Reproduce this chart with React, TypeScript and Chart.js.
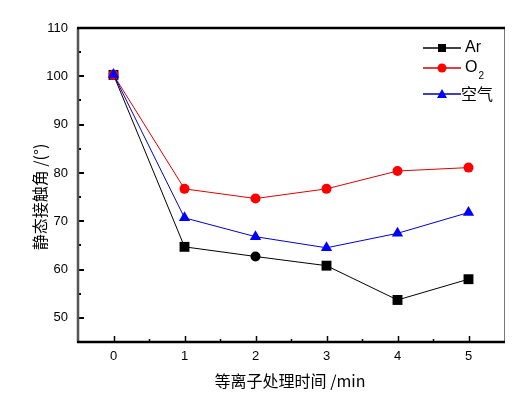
import React, { useEffect, useRef } from "react";
import { Chart, registerables } from "chart.js";

Chart.register(...registerables);

const times = [0, 1, 2, 3, 4, 5];
const arValues = [100.3, 64.7, 62.7, 60.8, 53.7, 58.0];
const o2Values = [100.3, 76.7, 74.7, 76.7, 80.4, 81.1];
const airValues = [100.4, 70.7, 66.8, 64.5, 67.5, 71.8];
const arPointStyles = ["rect", "rect", "circle", "rect", "rect", "rect"];
const yTicks = [50, 60, 70, 80, 90, 100, 110];
const xTicks = [0, 1, 2, 3, 4, 5];
const legendLabels = ["Ar", "O", "空气"];
const xTitle = "等离子处理时间 /min";
const yTitle = "静态接触角 /(°)";

const LATIN = "'Liberation Sans', Arial, sans-serif";
const CJK = "'Noto Sans CJK SC', 'Liberation Sans', sans-serif";

const framePlugin = {
  id: "frame",
  afterDraw(chart: any) {
    const { ctx, chartArea } = chart;
    const { left, right, top, bottom } = chartArea;
    const xs = chart.scales.x;
    const ys = chart.scales.y;
    ctx.save();
    ctx.strokeStyle = "#000";
    ctx.lineWidth = 2;
    for (let v = 45; v <= 110; v += 5) {
      if (v === 45 || v === 110) continue;
      const y = Math.round(ys.getPixelForValue(v));
      const len = v % 10 === 0 ? 6 : 3;
      ctx.beginPath();
      ctx.moveTo(left, y);
      ctx.lineTo(left + len, y);
      ctx.stroke();
    }
    ctx.lineWidth = 1.5;
    for (let v = 0; v <= 5; v += 0.5) {
      const x = Math.round(xs.getPixelForValue(v)) + 0.5;
      const len = Number.isInteger(v) ? 6 : 3;
      ctx.beginPath();
      ctx.moveTo(x, bottom);
      ctx.lineTo(x, bottom - len);
      ctx.stroke();
    }
    ctx.lineWidth = 1;
    ctx.strokeStyle = "#777";
    ctx.beginPath();
    ctx.moveTo(right + 0.5, top);
    ctx.lineTo(right + 0.5, bottom);
    ctx.stroke();
    ctx.lineWidth = 2.5;
    ctx.strokeStyle = "#555";
    ctx.beginPath();
    ctx.moveTo(left, top);
    ctx.lineTo(left, bottom + 1);
    ctx.stroke();
    ctx.strokeStyle = "#000";
    ctx.beginPath();
    ctx.moveTo(left - 1, top);
    ctx.lineTo(right + 1, top);
    ctx.stroke();
    ctx.beginPath();
    ctx.moveTo(left - 1, bottom);
    ctx.lineTo(right + 1, bottom);
    ctx.stroke();

    // axis titles
    ctx.fillStyle = "#000";
    ctx.textAlign = "center";
    ctx.textBaseline = "middle";
    ctx.font = `16px ${CJK}`;
    ctx.fillText(xTitle, 290, 381);
    ctx.save();
    ctx.translate(40, 197);
    ctx.rotate(-Math.PI / 2);
    ctx.font = `16px ${CJK}`;
    ctx.fillText(yTitle, 0, 0);
    ctx.restore();

    const rows = [
      { y: 48, color: "#000", line: "#000", style: "rect", label: legendLabels[0] },
      { y: 68, color: "#ff0000", line: "#cc0000", style: "circle", label: legendLabels[1] },
      { y: 94, color: "#0000ff", line: "#0000aa", style: "triangle", label: legendLabels[2] },
    ];
    rows.forEach((r) => {
      ctx.strokeStyle = r.line;
      ctx.lineWidth = 1.5;
      ctx.beginPath();
      ctx.moveTo(423, r.y);
      ctx.lineTo(461, r.y);
      ctx.stroke();
      ctx.fillStyle = r.color;
      const cx = 442;
      if (r.style === "rect") {
        ctx.fillRect(cx - 4, r.y - 4, 8, 8);
      } else if (r.style === "circle") {
        ctx.beginPath();
        ctx.arc(cx, r.y, 4.5, 0, Math.PI * 2);
        ctx.fill();
      } else {
        ctx.beginPath();
        ctx.moveTo(cx, r.y - 5);
        ctx.lineTo(cx + 5, r.y + 4);
        ctx.lineTo(cx - 5, r.y + 4);
        ctx.closePath();
        ctx.fill();
      }
      ctx.fillStyle = "#000";
      ctx.textBaseline = "middle";
      ctx.textAlign = "left";
      if (r.style === "triangle") {
        ctx.font = `16px ${CJK}`;
        ctx.fillText(r.label, 461, r.y);
      } else {
        ctx.font = `16px ${LATIN}`;
        ctx.fillText(r.label, 465, r.y);
        if (r.style === "circle") {
          const w = ctx.measureText(r.label).width;
          ctx.font = `10px ${LATIN}`;
          ctx.fillText("2", 465 + w + 1, r.y + 8);
        }
      }
    });
    ctx.restore();
  },
};

export default function App() {
  const ref = useRef<HTMLCanvasElement>(null);
  useEffect(() => {
    if (!ref.current) return;
    const chart = new Chart(ref.current, {
      type: "line",
      data: {
        labels: times,
        datasets: [
          {
            label: "空气",
            data: times.map((t, i) => ({ x: t, y: airValues[i] })),
            borderColor: "#0000cc",
            backgroundColor: "#0000ff",
            borderWidth: 1,
            pointStyle: "triangle",
            pointRadius: 6.5,
            pointBorderWidth: 0,
            order: 0,
          },
          {
            label: "O2",
            data: times.map((t, i) => ({ x: t, y: o2Values[i] })),
            borderColor: "#dd0000",
            backgroundColor: "#ff0000",
            borderWidth: 1,
            pointStyle: "circle",
            pointRadius: 5,
            pointBorderWidth: 0,
            order: 1,
          },
          {
            label: "Ar",
            data: times.map((t, i) => ({ x: t, y: arValues[i] })),
            borderColor: "#000",
            backgroundColor: "#000",
            borderWidth: 1,
            pointStyle: arPointStyles as any,
            pointRadius: arPointStyles.map((s) => (s === "rect" ? 7 : 5)),
            pointBorderWidth: 0,
            order: 2,
          },
        ],
      },
      options: {
        responsive: false,
        animation: false,
        layout: { padding: { top: 28, right: 16, left: 0, bottom: 0 } },
        plugins: { legend: { display: false }, tooltip: { enabled: false } },
        scales: {
          x: {
            type: "linear",
            min: -0.5,
            max: 5.5,
            afterBuildTicks(scale: any) {
              scale.ticks = xTicks.map((v) => ({ value: v }));
            },
            afterFit(scale: any) {
              scale.height = 53;
            },
            grid: { display: false, drawTicks: false },
            border: { display: false },
            ticks: {
              padding: 7,
              color: "#000",
              font: { family: LATIN, size: 13 },
              maxRotation: 0,
              callback: (v: any) => String(v),
            },
            title: { display: false },
          },
          y: {
            type: "linear",
            min: 45,
            max: 110,
            afterBuildTicks(scale: any) {
              scale.ticks = yTicks.map((v) => ({ value: v }));
            },
            afterFit(scale: any) {
              scale.width = 78;
            },
            grid: { display: false, drawTicks: false },
            border: { display: false },
            ticks: {
              padding: 10,
              color: "#000",
              font: { family: LATIN, size: 13 },
              callback: (v: any) => String(v),
            },
            title: { display: false },
          },
        },
      },
      plugins: [framePlugin],
    });
    return () => chart.destroy();
  }, []);
  return (
    <div style={{ position: "absolute", left: 0, top: 0, width: 520, height: 395, background: "#fff" }}>
      <canvas ref={ref} width={520} height={395} />
    </div>
  );
}
